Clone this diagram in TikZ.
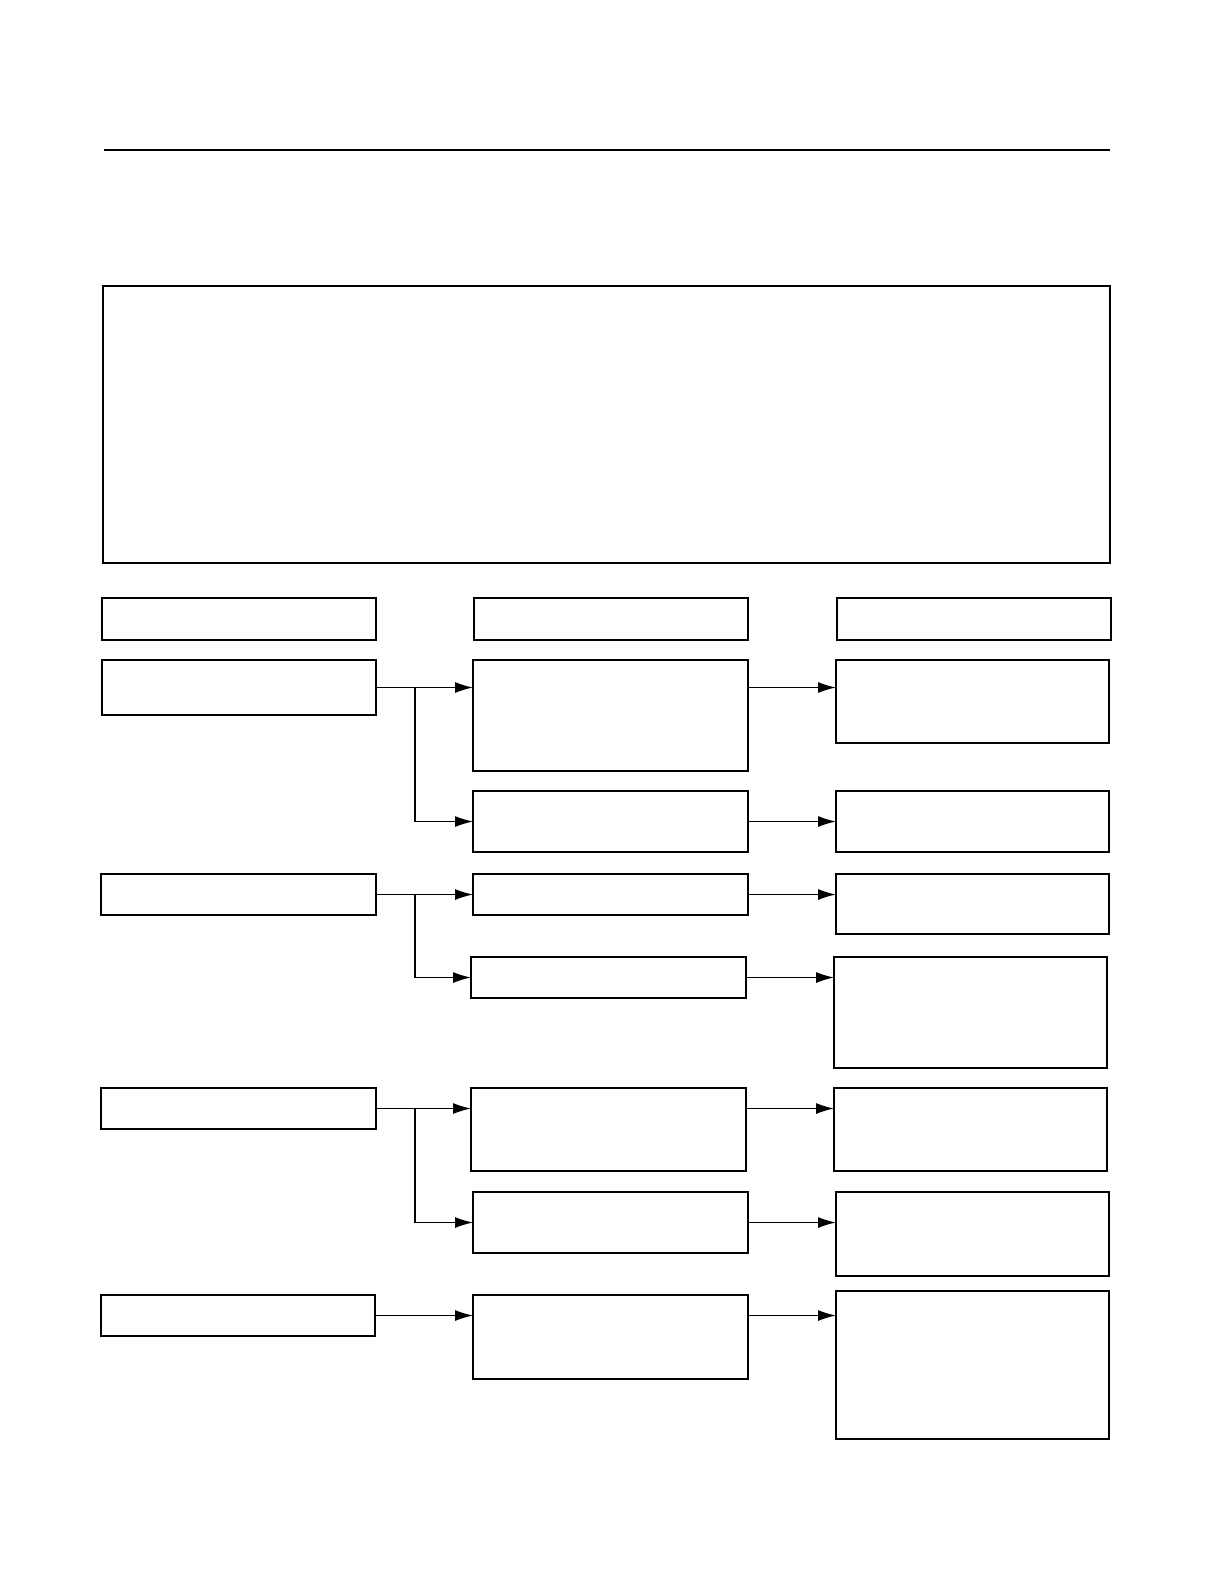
\documentclass[tikz,border=0pt]{standalone}
\usetikzlibrary{arrows.meta}

\begin{document}
\begin{tikzpicture}[x=0.5pt,y=-0.5pt,
    box/.style={draw, line width=0.6pt, inner sep=0pt, outer sep=0pt, anchor=north west},
    wh/.style 2 args={minimum width=#1*0.5pt, minimum height=#2*0.5pt},
    arr/.style={line width=0.6pt, -{Latex[length=9pt,width=5.5pt]}}]
    \useasboundingbox (0,0) rectangle (1224,1586);
    % title rule and top frame
    \draw[line width=1.1pt](104,150)--(1110,150);
    \node[box, wh={1007}{277}] (frame) at (103,286) {};
    % column heads
    \node[box, wh={274}{42}] (headL) at (102,598) {};
    \node[box, wh={274}{42}] (headM) at (474,598) {};
    \node[box, wh={274}{42}] (headR) at (837,598) {};
    % row 1
    \node[box, wh={274}{55}] (left1) at (102,660) {};
    \node[box, wh={275}{111}] (mid1a) at (473,660) {};
    \node[box, wh={275}{61}] (mid1b) at (473,791) {};
    \node[box, wh={273}{83}] (right1a) at (836,660) {};
    \node[box, wh={273}{61}] (right1b) at (836,791) {};
    \coordinate (fork1) at (415,687);
    \draw[arr](left1.east)--(left1.east -| mid1a.west);
    \draw[arr](fork1)|-(mid1b.west);
    \draw[arr](left1.east -| mid1a.east)--(left1.east -| right1a.west);
    \draw[arr](mid1b.east)--(mid1b.east -| right1b.west);
    % row 2
    \node[box, wh={275}{41}] (left2) at (101,874) {};
    \node[box, wh={275}{41}] (mid2a) at (473,874) {};
    \node[box, wh={275}{41}] (mid2b) at (471,957) {};
    \node[box, wh={273}{60}] (right2a) at (836,874) {};
    \node[box, wh={273}{111}] (right2b) at (834,957) {};
    \coordinate (fork2) at (415,895);
    \draw[arr](left2.east)--(left2.east -| mid2a.west);
    \draw[arr](fork2)|-(mid2b.west);
    \draw[arr](mid2a.east)--(mid2a.east -| right2a.west);
    \draw[arr](mid2b.east)--(mid2b.east -| right2b.west);
    % row 3
    \node[box, wh={275}{41}] (left3) at (101,1088) {};
    \node[box, wh={275}{83}] (mid3a) at (471,1088) {};
    \node[box, wh={275}{61}] (mid3b) at (473,1192) {};
    \node[box, wh={273}{83}] (right3a) at (834,1088) {};
    \node[box, wh={273}{84}] (right3b) at (836,1192) {};
    \coordinate (fork3) at (415,1109);
    \draw[arr](left3.east)--(left3.east -| mid3a.west);
    \draw[arr](fork3)|-(mid3b.west);
    \draw[arr](left3.east -| mid3a.east)--(left3.east -| right3a.west);
    \draw[arr](mid3b.east)--(mid3b.east -| right3b.west);
    % row 4
    \node[box, wh={274}{41}] (left4) at (101,1295) {};
    \node[box, wh={275}{84}] (mid4) at (473,1295) {};
    \node[box, wh={273}{148}] (right4) at (836,1291) {};
    \draw[arr](left4.east)--(left4.east -| mid4.west);
    \draw[arr](left4.east -| mid4.east)--(left4.east -| right4.west);
\end{tikzpicture}
\end{document}
